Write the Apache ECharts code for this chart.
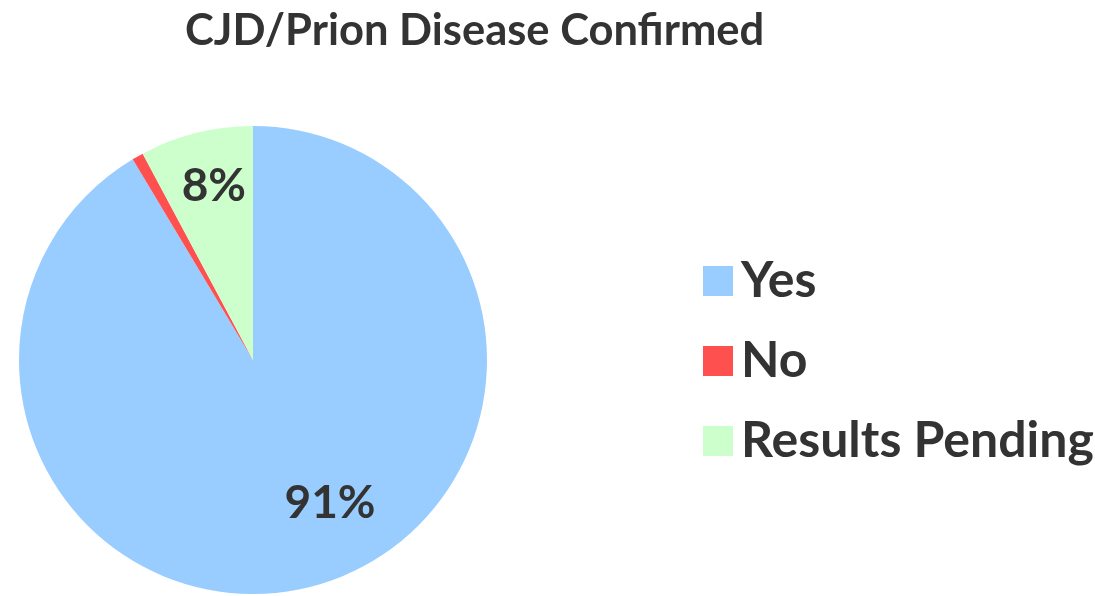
<!DOCTYPE html>
<html>
<head>
<meta charset="utf-8">
<script src="https://cdn.jsdelivr.net/npm/echarts@6/dist/echarts.min.js"></script>
<style>
  html, body { margin: 0; padding: 0; background: #fff; }
  #chart { width: 1095px; height: 596px; }
</style>
</head>
<body>
<div id="chart"></div>
<script>
// counts
const categories = ['Yes', 'No', 'Results Pending'];
const counts = [117, 1, 10];
const colors = ['#99ccff', '#ff5050', '#ccffcc'];
const labelShifts = [[45, 28], [0, 0], [-10, -57]];

const total = counts.reduce((a, b) => a + b, 0);
const textColor = '#333333';
const font = 'Lato, "Open Sans", sans-serif';

const chart = echarts.init(document.getElementById('chart'));

chart.setOption({
    animation: false,
    title: {
        text: 'CJD/Prion Disease Confirmed',
        left: 180,
        top: 4,
        textStyle: {
            color: textColor,
            fontFamily: font,
            fontWeight: 'bold',
            fontSize: 43.5
        }
    },
    legend: {
        orient: 'vertical',
        left: 698,
        top: 251,
        itemWidth: 30,
        itemHeight: 30,
        itemGap: 30,
        icon: 'rect',
        data: categories,
        textStyle: {
            color: textColor,
            fontFamily: font,
            fontWeight: 'bold',
            fontSize: 50,
            padding: [0, 0, 0, 3]
        }
    },
    series: [
        {
            type: 'pie',
            center: [253, 360],
            radius: 234,
            startAngle: 90,
            clockwise: true,
            silent: true,
            label: {
                show: true,
                position: 'inside',
                color: textColor,
                fontFamily: font,
                fontWeight: 'bold',
                fontSize: 46,
                formatter: p => Math.round(p.value / total * 100) + '%'
            },
            labelLine: { show: false },
            labelLayout: p => ({ dx: labelShifts[p.dataIndex][0], dy: labelShifts[p.dataIndex][1] }),
            data: categories.map((name, i) => ({
                name: name,
                value: counts[i],
                itemStyle: { color: colors[i] },
                label: { show: counts[i] / total > 0.02 }
            }))
        }
    ]
});
</script>
</body>
</html>
